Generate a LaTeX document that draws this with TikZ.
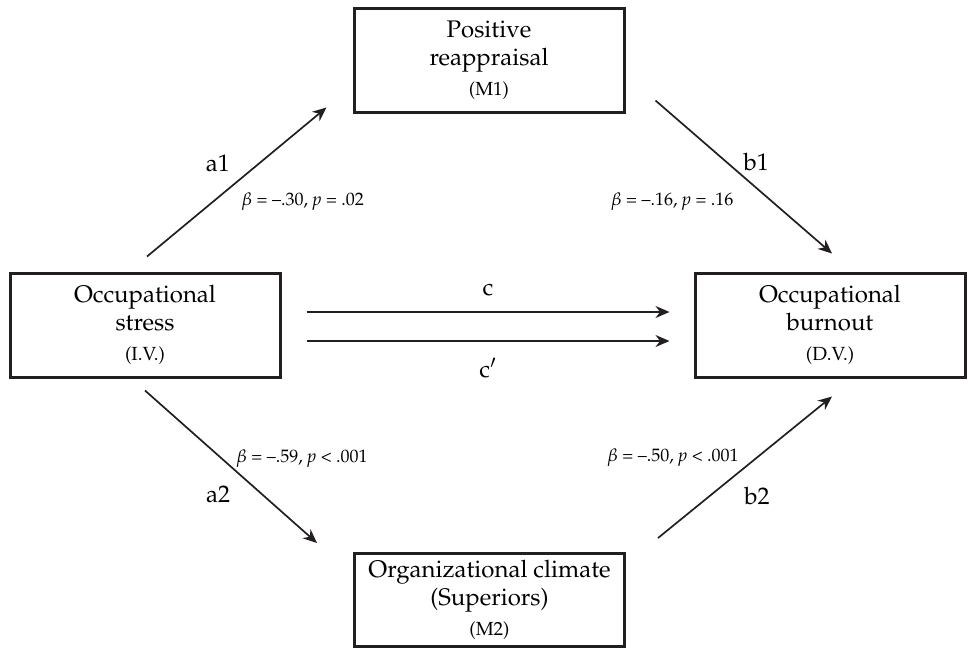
\documentclass[tikz,border=0pt]{standalone}
\usepackage[T1]{fontenc}
\usepackage{mathpazo}
\usetikzlibrary{positioning,arrows.meta}
\definecolor{linegray}{HTML}{231F20}
\newcommand{\vartag}[1]{{\fontsize{9.5}{11}\selectfont #1}}

\begin{document}
\begin{tikzpicture}[
  x=0.5pt, y=-0.5pt,
  font=\fontsize{12}{14}\selectfont,
  box/.style={
    draw=linegray, line width=1.5pt,
    minimum width=135pt, minimum height=52pt,
    align=center, inner sep=2pt
  },
  effect/.style={-{Stealth[length=7pt,width=6pt]}, line width=0.85pt, draw=linegray},
  stat/.style={font=\fontsize{9}{11}\selectfont},
]
\useasboundingbox (0,0) rectangle (968,649);

% Variables of the mediation model.
\node[box] (stress) at (145,325) {Occupational\\stress\\[1pt]\vartag{(I.V.)}};
\node[box] (burnout) at (830,325) {Occupational\\burnout\\[1pt]\vartag{(D.V.)}};
\node[box] (reapp) at (489,60) {Positive\\reappraisal\\[1pt]\vartag{(M1)}};
\node[box, minimum height=46.5pt] (climate) at (489.5,600)
  {Organizational climate\\(Superiors)\\[1pt]\vartag{(M2)}};

% Paths a1 and b1 through M1.
\draw[effect] ([xshift=1pt,yshift=7.5pt]stress.north) --
  node[midway, xshift=-9.5pt, yshift=9.5pt] {a1}
  node[midway, stat, xshift=33pt, yshift=-10pt] {$\beta$ = --.30, \textit{p} = .02}
  ([xshift=-13pt,yshift=3pt]reapp.south west);
\draw[effect] ([xshift=15pt,yshift=6.5pt]reapp.south east) --
  node[midway, xshift=6.25pt, yshift=7.75pt] {b1}
  node[midway, stat, xshift=-35.75pt, yshift=-12.25pt] {$\beta$ = --.16, \textit{p} = .16}
  ([xshift=1pt,yshift=9pt]burnout.north);

% Paths a2 and b2 through M2.
\draw[effect] ([yshift=-6pt]stress.south) --
  node[midway, xshift=-6.5pt, yshift=-13.5pt] {a2}
  node[midway, stat, xshift=35.5pt, yshift=4pt] {$\beta$ = --.59, \textit{p} {\textless} .001}
  ([xshift=-18pt,yshift=4.5pt]climate.north west);
\draw[effect] ([xshift=16pt,yshift=7pt]climate.north east) --
  node[midway, xshift=6pt, yshift=-14.25pt] {b2}
  node[midway, stat, xshift=-36pt, yshift=4.75pt] {$\beta$ = --.50, \textit{p} {\textless} .001}
  ([xshift=1pt,yshift=-9pt]burnout.south);

% Total and direct effect.
\draw[effect] ([xshift=12.5pt,yshift=6.5pt]stress.east) --
  node[midway, yshift=11pt] {c} ([xshift=-12pt,yshift=6.5pt]burnout.west);
\draw[effect] ([xshift=12.5pt,yshift=-8pt]stress.east) --
  node[midway, yshift=-13.5pt] {c$'$} ([xshift=-12pt,yshift=-8pt]burnout.west);

\end{tikzpicture}
\end{document}
